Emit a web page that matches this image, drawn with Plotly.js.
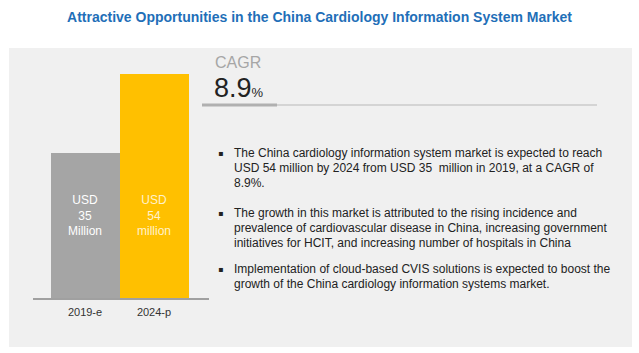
<!DOCTYPE html>
<html><head><meta charset="utf-8">
<script src="https://cdn.plot.ly/plotly-3.0.1.min.js"></script>
<style>html,body{margin:0;padding:0;background:#fff;}#chart{width:639px;height:353px;}</style>
</head><body><div id="chart"></div>
<script>
const categories = ["2019-e", "2024-p"];
const values = [35, 54];
const barLabels = ["USD<br>35<br>Million", "USD<br>54<br>million"];
const cagrTitle = "CAGR";
const cagrValue = "8.9";
const bullets = [
  ["The China cardiology information system market is expected to reach",
   "USD 54 million by 2024 from USD 35  million in 2019, at a CAGR of",
   "8.9%."],
  ["The growth in this market is attributed to the rising incidence and",
   "prevalence of cardiovascular disease in China, increasing government",
   "initiatives for HCIT, and increasing number of hospitals in China"],
  ["Implementation of cloud-based CVIS solutions is expected to boost the",
   "growth of the China cardiology information systems market."]
];
const titleText = "Attractive Opportunities in the China Cardiology Information System Market";

const W = 639, H = 353;
const px = x => x / W;
const py = y => 1 - y / H;

const trace = {
  type: "bar", x: categories, y: values,
  marker: {color: ["#a5a5a5", "#ffc000"], line: {width: 0}},
  hoverinfo: "none"
};

const annotations = [];
barLabels.forEach((t, i) => {
  annotations.push({
    x: categories[i], y: 20.1, xref: "x", yref: "y", text: t, showarrow: false,
    font: {family: "Liberation Sans, Arial", size: 12, color: i === 0 ? "#ffffff" : "#fff2cc"},
    align: "center", xanchor: "center", yanchor: "middle"
  });
});
annotations.push({xref: "paper", yref: "paper", x: px(213), y: py(62), text: cagrTitle, showarrow: false,
  xanchor: "left", yanchor: "middle", font: {family: "Liberation Sans, Arial", size: 16, color: "#a6a6a6"}});
annotations.push({xref: "paper", yref: "paper", x: px(212), y: py(88), text: cagrValue + "<span style='font-size:13px'>%</span>", showarrow: false,
  xanchor: "left", yanchor: "middle", font: {family: "Liberation Sans, Arial", size: 27, color: "#222222"}});

const lineStarts = [153, 213, 269];
bullets.forEach((para, p) => {
  annotations.push({xref: "paper", yref: "paper", x: px(216), y: py(lineStarts[p]), text: "▪", showarrow: false,
    xanchor: "left", yanchor: "middle", font: {family: "DejaVu Sans", size: 8, color: "#222"}});
  para.forEach((ln, k) => {
    annotations.push({xref: "paper", yref: "paper", x: px(232), y: py(lineStarts[p] + k * 15.2), text: ln, showarrow: false,
      xanchor: "left", yanchor: "middle", font: {family: "Liberation Sans, Arial", size: 12, color: "#222222"}});
  });
});

const shapes = [
  {type: "rect", xref: "paper", yref: "paper", x0: px(9), x1: px(632), y0: py(347), y1: py(48), fillcolor: "#f0f0f0", line: {width: 0}, layer: "below"},
  {type: "line", xref: "paper", yref: "paper", x0: px(277), x1: px(597), y0: py(105), y1: py(105), line: {color: "#d4d4d4", width: 2}},
  {type: "line", xref: "paper", yref: "paper", x0: px(202), x1: px(277), y0: py(105), y1: py(105), line: {color: "#b0b0b0", width: 3}},
  {type: "line", xref: "paper", yref: "paper", x0: px(33), x1: px(209), y0: py(299), y1: py(299), line: {color: "#a0a0a0", width: 2}}
];

const layout = {
  width: W, height: H,
  margin: {l: 0, r: 0, t: 0, b: 0},
  paper_bgcolor: "#ffffff", plot_bgcolor: "rgba(0,0,0,0)",
  showlegend: false,
  bargap: 0,
  title: {text: titleText, x: 0.5, xanchor: "center", y: py(17), yanchor: "middle", yref: "paper",
    font: {family: "Liberation Sans, Arial", size: 14, color: "#1f6fb8", weight: "bold"}},
  xaxis: {domain: [px(33), px(209)], range: [-0.754, 1.797], type: "category",
    showgrid: false, zeroline: false, showline: false, ticks: "",
    tickfont: {family: "Liberation Sans, Arial", size: 11, color: "#333"}, ticklabelstandoff: 5},
  yaxis: {domain: [py(299), py(48)], range: [0, 60.2], visible: false, showgrid: false, zeroline: false},
  annotations, shapes
};
Plotly.newPlot("chart", [trace], layout, {displayModeBar: false, staticPlot: true});
</script></body></html>
